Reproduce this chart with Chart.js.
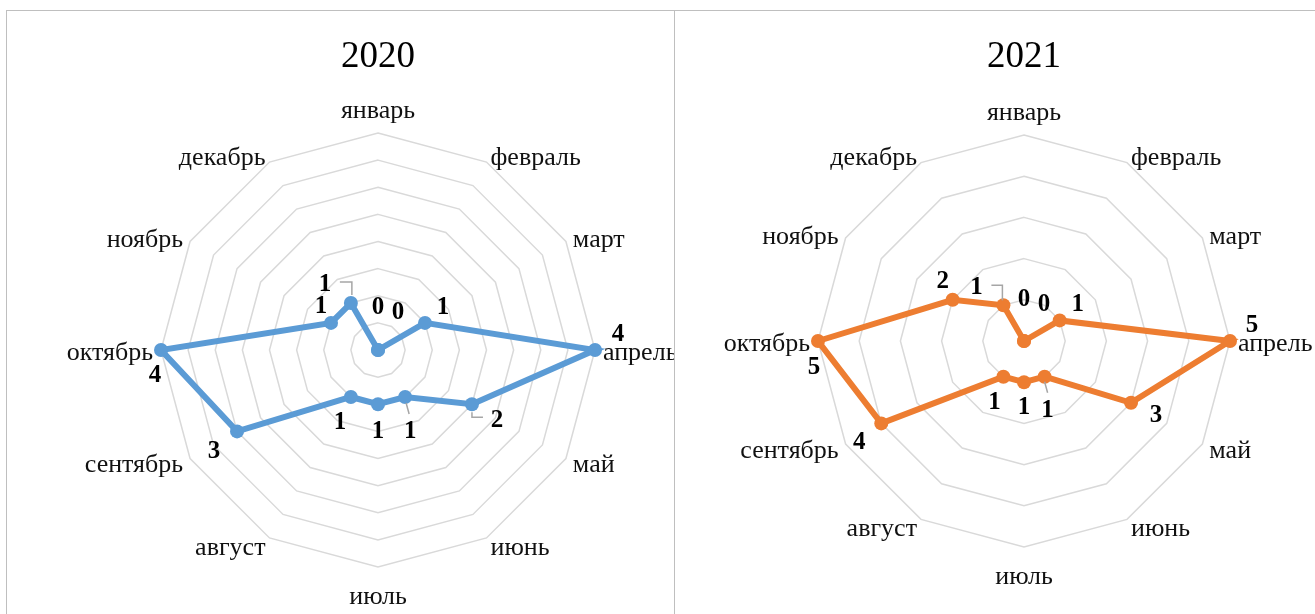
<!DOCTYPE html>
<html lang="ru">
<head>
<meta charset="utf-8">
<title>2020 / 2021</title>
<script src="https://cdn.jsdelivr.net/npm/chart.js@4/dist/chart.umd.min.js"></script>
<style>
  html, body { margin: 0; padding: 0; background: #fff; }
  body { width: 1315px; height: 614px; position: relative; overflow: hidden; font-family: "Liberation Serif", "Times New Roman", serif; }
  .panel { position: absolute; top: 10px; height: 640px; border-top: 1px solid #bfbfbf; box-sizing: border-box; }
  #panel-a { left: 6px; width: 669px; border-left: 1px solid #bfbfbf; border-right: 1px solid #bfbfbf; }
  #panel-b { left: 675px; width: 660px; }
  .panel canvas { position: absolute; top: 0; left: 0; }
  .title { position: absolute; top: 33px; width: 200px; margin-left: -100px; text-align: center; font-size: 37px; color: #000; }
</style>
</head>
<body>
<div class="panel" id="panel-a"><canvas id="radar2020" width="667" height="603"></canvas></div>
<div class="panel" id="panel-b"><canvas id="radar2021" width="640" height="603"></canvas></div>
<div class="title" style="left:378px">2020</div>
<div class="title" style="left:1024px">2021</div>

<script>
// months and counts per year
const months = ['январь', 'февраль', 'март', 'апрель', 'май', 'июнь', 'июль', 'август', 'сентябрь', 'октябрь', 'ноябрь', 'декабрь'];
const values2020 = [0, 0, 1, 4, 2, 1, 1, 1, 3, 4, 1, 1];
const values2021 = [0, 0, 1, 5, 3, 1, 1, 1, 4, 5, 2, 1];
const axisMax2020 = 4;
const axisStep2020 = 0.5;
const axisMax2021 = 5;
const axisStep2021 = 1;

// where each value label sits relative to its point, plus the little leader lines
const labelShift2020 = [[0,-42],[20,-37],[18,-15],[23,-15],[25,16],[5,35],[0,27],[-11,26],[-23,20],[-6,26],[-10,-16],[-26,-18]];
const labelShift2021 = [[0,-41],[20,-36],[18,-16],[22,-15],[25,13],[3,34],[0,25],[-9,26],[-22,19],[-4,27],[-10,-18],[-27,-18]];
const leaders2020 = { 4: [[0,8],[0,13],[11,13]], 5: [[1,6],[4,17]], 11: [[1,-8],[1,-21],[-11,-21]] };
const leaders2021 = { 5: [[0,5],[3,16]], 11: [[-1,-5],[-1,-20],[-12,-20]] };

const serif = '"Liberation Serif", "Times New Roman", serif';

// month names around the polygon + bold value labels
const radarLabels = {
  id: 'radarLabels',
  afterDatasetsDraw(chart, args, opts) {
    const ctx = chart.ctx;
    const scale = chart.scales.r;
    const R = scale.drawingArea;
    ctx.save();

    // month names
    ctx.font = '26px ' + serif;
    ctx.fillStyle = '#111';
    ctx.textBaseline = 'middle';
    chart.data.labels.forEach((lbl, i) => {
      const p = scale.getPointPosition(i, R + 8);
      const a = p.angle + Math.PI / 2;
      const s = Math.sin(a), c = Math.cos(a);
      let y = p.y + 3;
      if (Math.abs(s) < 0.01) y = p.y + (c > 0 ? -14 : 22);
      ctx.textAlign = Math.abs(s) < 0.01 ? 'center' : (s > 0 ? 'left' : 'right');
      ctx.fillText(lbl, p.x, y);
    });

    // leader lines
    const meta = chart.getDatasetMeta(0);
    ctx.strokeStyle = '#a6a6a6';
    ctx.lineWidth = 1.5;
    Object.keys(opts.leaders).forEach(k => {
      const pt = meta.data[k];
      const pts = opts.leaders[k];
      ctx.beginPath();
      pts.forEach((q, j) => {
        if (j === 0) ctx.moveTo(pt.x + q[0], pt.y + q[1]);
        else ctx.lineTo(pt.x + q[0], pt.y + q[1]);
      });
      ctx.stroke();
    });

    // value labels
    ctx.font = 'bold 25px ' + serif;
    ctx.fillStyle = '#000';
    ctx.textAlign = 'center';
    chart.data.datasets[0].data.forEach((v, i) => {
      const pt = meta.data[i];
      const sh = opts.shift[i];
      ctx.fillText(String(v), pt.x + sh[0], pt.y + sh[1]);
    });
    ctx.restore();
  }
};

function makeRadar(id, values, max, step, color, padding, shift, leaders) {
  const ctx = document.getElementById(id).getContext('2d');
  return new Chart(ctx, {
    type: 'radar',
    data: {
      labels: months,
      datasets: [{
        data: values,
        borderColor: color,
        backgroundColor: color,
        borderWidth: 6,
        fill: false,
        tension: 0,
        pointRadius: 7,
        pointBorderWidth: 0,
        pointBackgroundColor: color
      }]
    },
    options: {
      responsive: false,
      animation: false,
      layout: { padding: padding },
      plugins: {
        legend: { display: false },
        tooltip: { enabled: false },
        radarLabels: { shift: shift, leaders: leaders }
      },
      scales: {
        r: {
          min: 0,
          max: max,
          ticks: { display: false, stepSize: step },
          grid: { color: '#d9d9d9', lineWidth: 1.5, circular: false },
          angleLines: { display: false },
          pointLabels: { display: false }
        }
      }
    },
    plugins: [radarLabels]
  });
}

// chart area sized so the centre/radius land where the panels need them
makeRadar('radar2020', values2020, axisMax2020, axisStep2020, '#5b9bd5',
  { left: 154, top: 122, right: 79, bottom: 47 }, labelShift2020, leaders2020);
makeRadar('radar2021', values2021, axisMax2021, axisStep2021, '#ed7d31',
  { left: 143, top: 124, right: 85, bottom: 67 }, labelShift2021, leaders2021);
</script>
</body>
</html>
